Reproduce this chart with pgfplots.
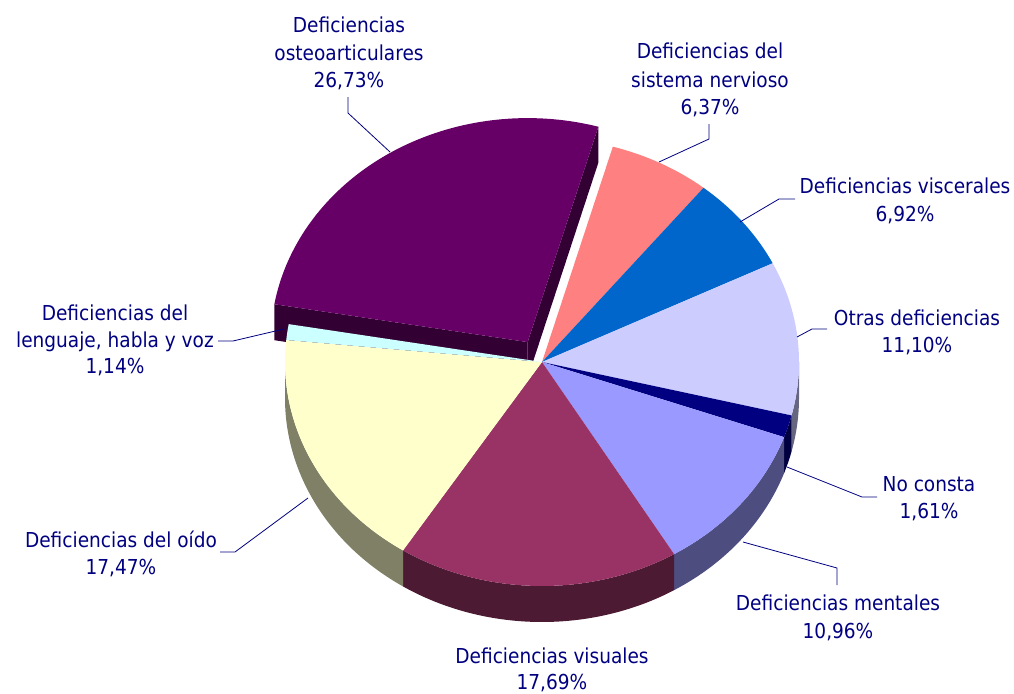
\documentclass[border=0pt]{standalone}
\usepackage{pgfplots}
\pgfplotsset{compat=1.18}
\usepackage{pgfplotstable}
\usepackage{fontspec}
\setmainfont{DejaVu Sans Condensed}

\definecolor{navy}{HTML}{000080}
\definecolor{cOst}{HTML}{660066}\definecolor{sOst}{HTML}{330033}
\definecolor{cNer}{HTML}{FF8080}
\definecolor{cVis}{HTML}{0066CC}
\definecolor{cOtr}{HTML}{CCCCFF}\definecolor{sOtr}{HTML}{666680}
\definecolor{cNoc}{HTML}{000080}\definecolor{sNoc}{HTML}{000040}
\definecolor{cMen}{HTML}{9999FF}\definecolor{sMen}{HTML}{4D4D80}
\definecolor{cVsu}{HTML}{993366}\definecolor{sVsu}{HTML}{4D1A33}
\definecolor{cOid}{HTML}{FFFFCC}\definecolor{sOid}{HTML}{808066}
\definecolor{cLen}{HTML}{CCFFFF}

\tikzset{lbl/.style={anchor=base, text=navy, inner sep=0pt, font=\fontsize{20.6}{27}\selectfont}}

% shares (%), clockwise from the top
\pgfplotstableread{
idx value
1 6.37
2 6.92
3 11.10
4 1.61
5 10.96
6 17.69
7 17.47
8 1.14
9 26.73
}\piedata

\newcommand\nextang[3]{%
  \pgfplotstablegetelem{#3}{value}\of\piedata
  \pgfmathsetmacro#1{#2-3.6*\pgfplotsretval}}
\pgfmathsetmacro\aA{74}
\nextang\aB\aA{0}
\nextang\aC\aB{1}
\nextang\aD\aC{2}
\nextang\aE\aD{3}
\nextang\aF\aE{4}
\nextang\aG\aF{5}
\nextang\aH\aG{6}
\nextang\aI\aH{7}
\nextang\aJ\aI{8}
\pgfmathsetmacro\aM{(\aI+\aJ)/2}
\pgfmathsetmacro\ex{542+257*0.105*cos(\aM)}
\pgfmathsetmacro\ey{362-224*0.105*sin(\aM)}

\newcommand\topface[5]{\fill[#5] (axis cs:#1,#2) -- ++(#3:257pt and 224pt) arc[start angle=#3,end angle=#4,x radius=257pt,y radius=224pt] -- cycle;}
\newcommand\side[3]{\fill[#3] (axis cs:542,362) ++(#1:257pt and 224pt) arc[start angle=#1,end angle=#2,x radius=257pt,y radius=224pt] -- ++(0pt,-36pt) arc[start angle=#2,end angle=#1,x radius=257pt,y radius=224pt] -- cycle;}
\newcommand\radial[4]{\fill[#4] (axis cs:#1,#2) -- ++(#3:257pt and 224pt) -- ++(0pt,-36pt) -- ++(#3+180:257pt and 224pt) -- cycle;}
\newcommand\lab[3]{\node[lbl] at (axis cs:#1,#2) {#3};}

\begin{document}
\begin{tikzpicture}
\path[use as bounding box] (0,0) rectangle (1014pt,693pt);
\begin{axis}[
  width=1014pt, height=693pt, scale only axis,
  xmin=0, xmax=1014, ymin=0, ymax=693, y dir=reverse,
  hide axis, clip=false,
]
% exploded slice (behind)
\radial{\ex}{\ey}{\aI}{sOst}
\radial{\ex}{\ey}{\aJ}{sOst}
\topface{\ex}{\ey}{\aI}{\aJ}{cOst}
% sides of the front half
\side{0}{\aD}{sOtr}
\side{\aD}{\aE}{sNoc}
\side{\aE}{\aF}{sMen}
\side{\aF}{\aG}{sVsu}
\side{\aG}{-180}{sOid}
% top faces
\topface{542}{362}{\aA}{\aB}{cNer}
\topface{542}{362}{\aB}{\aC}{cVis}
\topface{542}{362}{\aC}{\aD}{cOtr}
\topface{542}{362}{\aD}{\aE}{cNoc}
\topface{542}{362}{\aE}{\aF}{cMen}
\topface{542}{362}{\aF}{\aG}{cVsu}
\topface{542}{362}{\aG}{\aH}{cOid}
\topface{542}{362}{\aH}{\aI}{cLen}
% leader lines
\draw[navy, line width=0.8pt] (axis cs:348,97) -- (axis cs:348,113) -- (axis cs:390,152);
\draw[navy, line width=0.8pt] (axis cs:709,124) -- (axis cs:709,139) -- (axis cs:659,162);
\draw[navy, line width=0.8pt] (axis cs:795,199) -- (axis cs:779,199) -- (axis cs:740,222);
\draw[navy, line width=0.8pt] (axis cs:827,329) -- (axis cs:812,329) -- (axis cs:797,337);
\draw[navy, line width=0.8pt] (axis cs:877,497) -- (axis cs:862,497) -- (axis cs:787,467);
\draw[navy, line width=0.8pt] (axis cs:837,585) -- (axis cs:837,568) -- (axis cs:743,542);
\draw[navy, line width=0.8pt] (axis cs:218,341) -- (axis cs:233,341) -- (axis cs:284,329);
\draw[navy, line width=0.8pt] (axis cs:220,552) -- (axis cs:235,552) -- (axis cs:308,498);
% labels
\lab{349}{33}{Deficiencias}
\lab{349}{61}{osteoarticulares}
\lab{349}{88}{26,73\%}
\lab{710}{59}{Deficiencias del}
\lab{710}{87}{sistema nervioso}
\lab{710}{114}{6,37\%}
\lab{905}{193}{Deficiencias viscerales}
\lab{905}{221}{6,92\%}
\lab{917}{325}{Otras deficiencias}
\lab{917}{352}{11,10\%}
\lab{929}{491}{No consta}
\lab{929}{518}{1,61\%}
\lab{838}{610}{Deficiencias mentales}
\lab{838}{638}{10,96\%}
\lab{552}{663}{Deficiencias visuales}
\lab{552}{689}{17,69\%}
\lab{121}{547}{Deficiencias del oído}
\lab{121}{574}{17,47\%}
\lab{115}{320}{Deficiencias del}
\lab{115}{347}{lenguaje, habla y voz}
\lab{115}{373}{1,14\%}
\end{axis}
\end{tikzpicture}
\end{document}
